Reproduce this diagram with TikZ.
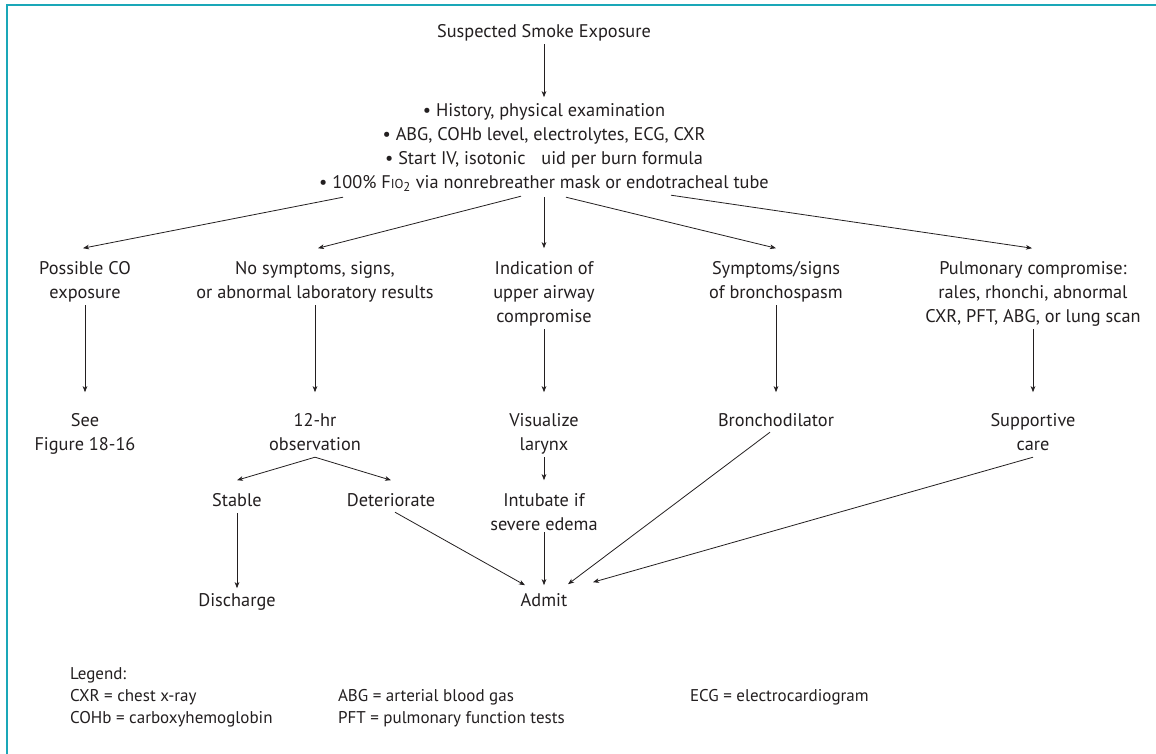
\documentclass[tikz,border=0pt]{standalone}
\usepackage{fontspec}
\setmainfont{PT Sans}
\usetikzlibrary{arrows.meta,calc}
\definecolor{txt}{HTML}{231F20}
\definecolor{frameteal}{HTML}{1AA7B8}
\newcommand{\SL}{\strut}
\begin{document}
\begin{tikzpicture}[x=1pt,y=-1pt,
  every node/.style={font=\fontsize{18.3}{24}\selectfont, text=txt, inner sep=0pt, outer sep=0pt, align=center},
  arr/.style={draw=txt, line width=0.8pt, -{Stealth[length=6pt,width=4.6pt,inset=1.6pt]}},
  leg/.style={anchor=base west, font=\fontsize{17}{22}\selectfont}]
\useasboundingbox (0,0) rectangle (1156,753);
\fill[white] (0,0) rectangle (1156,753);
\draw[frameteal, line width=2pt] (7,760) -- (7,5) -- (1160,5);

% nodes
\node (t) at (544,32.2) {\SL Suspected Smoke Exposure};
\node (b) at (544,147.2) {\SL\textbullet\ History, physical examination\\
  \SL\textbullet\ ABG, COHb level, electrolytes, ECG, CXR\\
  \SL\textbullet\ Start IV, isotonic \hspace{0.6em}uid per burn formula\\
  \SL\textbullet\ 100\% F{\fontsize{13}{13}\selectfont IO}\textsubscript{2} via nonrebreather mask or endotracheal tube};

\node (co)  at (85,281.2)   {\SL Possible CO\\\SL exposure};
\node (ns)  at (315,281.2)  {\SL No symptoms, signs,\\\SL or abnormal laboratory results};
\node (ind) at (544,293.2)  {\SL Indication of\\\SL upper airway\\\SL compromise};
\node (sym) at (776,281.2)  {\SL Symptoms/signs\\\SL of bronchospasm};
\node (pul) at (1033,293.2) {\SL Pulmonary compromise:\\\SL rales, rhonchi, abnormal\\\SL CXR, PFT, ABG, or lung scan};

\node (see) at (85,433.2)   {\SL See\\\SL Figure 18-16};
\node (obs) at (315,433.2)  {\SL 12-hr\\\SL observation};
\node (vis) at (544,433.2)  {\SL Visualize\\\SL larynx};
\node (bro) at (776,421.2)  {\SL Bronchodilator};
\node (sup) at (1033,433.2) {\SL Supportive\\\SL care};

\node (sta) at (237,501.2)  {\SL Stable};
\node (det) at (391,501.2)  {\SL Deteriorate};
\node (int) at (544,513.2)  {\SL Intubate if\\\SL severe edema};

\node (dis) at (237,601.2)  {\SL Discharge};
\node (adm) at (544,601.2)  {\SL Admit};

% connectors
\draw[arr] (t.south) -- ($(b.north)+(0,-2)$);
\coordinate (f1) at ($(b.south)+(-201,2)$);
\coordinate (f2) at ($(b.south)+(-23,1)$);
\coordinate (f3) at ($(b.south)+(0,2)$);
\coordinate (f4) at ($(b.south)+(22,2)$);
\coordinate (f5) at ($(b.south)+(127,0)$);
\draw[arr] (f1) -- ($(co.north)+(-2,-9)$);
\draw[arr] (f2) -- ($(ns.north)+(3,-9)$);
\draw[arr] (f3) -- ($(ind.north)+(0,-9)$);
\draw[arr] (f4) -- ($(sym.north)+(0,-9)$);
\draw[arr] (f5) -- ($(pul.north)+(-1,-9)$);

\draw[arr] (co.south)  -- ($(see.north)+(0,-17)$);
\draw[arr] (ns.south)  -- ($(obs.north)+(0,-17)$);
\draw[arr] (ind.south) -- ($(vis.north)+(0,-17)$);
\draw[arr] (sym.south) -- ($(bro.north)+(0,-17)$);
\draw[arr] (pul.south) -- ($(sup.north)+(0,-17)$);

\draw[arr] (obs.south) -- ($(sta.north)+(0,-9)$);
\draw[arr] (obs.south) -- ($(det.north)+(0,-9)$);
\draw[arr] (vis.south) -- ($(int.north)+(0,-9)$);
\draw[arr] (sta.south) -- ($(dis.north)+(0,-1)$);

\draw[arr] ($(det.south)+(4,-1)$) -- ($(adm.north)+(-19,-4)$);
\draw[arr] ($(int.south)+(0,-5)$) -- ($(adm.north)+(0,-4)$);
\draw[arr] ($(bro.south)+(-6,-1)$) -- ($(adm.north)+(24,-5)$);
\draw[arr] (sup.south) -- ($(adm.north)+(49,-7)$);

% legend
\node[leg] (l0) at (70,679) {Legend:};
\node[leg] (l1) at (70,701) {CXR = chest x-ray};
\node[leg] (l2) at (70,723) {COHb = carboxyhemoglobin};
\node[leg] (l3) at (338,701) {ABG = arterial blood gas};
\node[leg] (l4) at (338,723) {PFT = pulmonary function tests};
\node[leg] (l5) at (690,701) {ECG = electrocardiogram};
\end{tikzpicture}
\end{document}
